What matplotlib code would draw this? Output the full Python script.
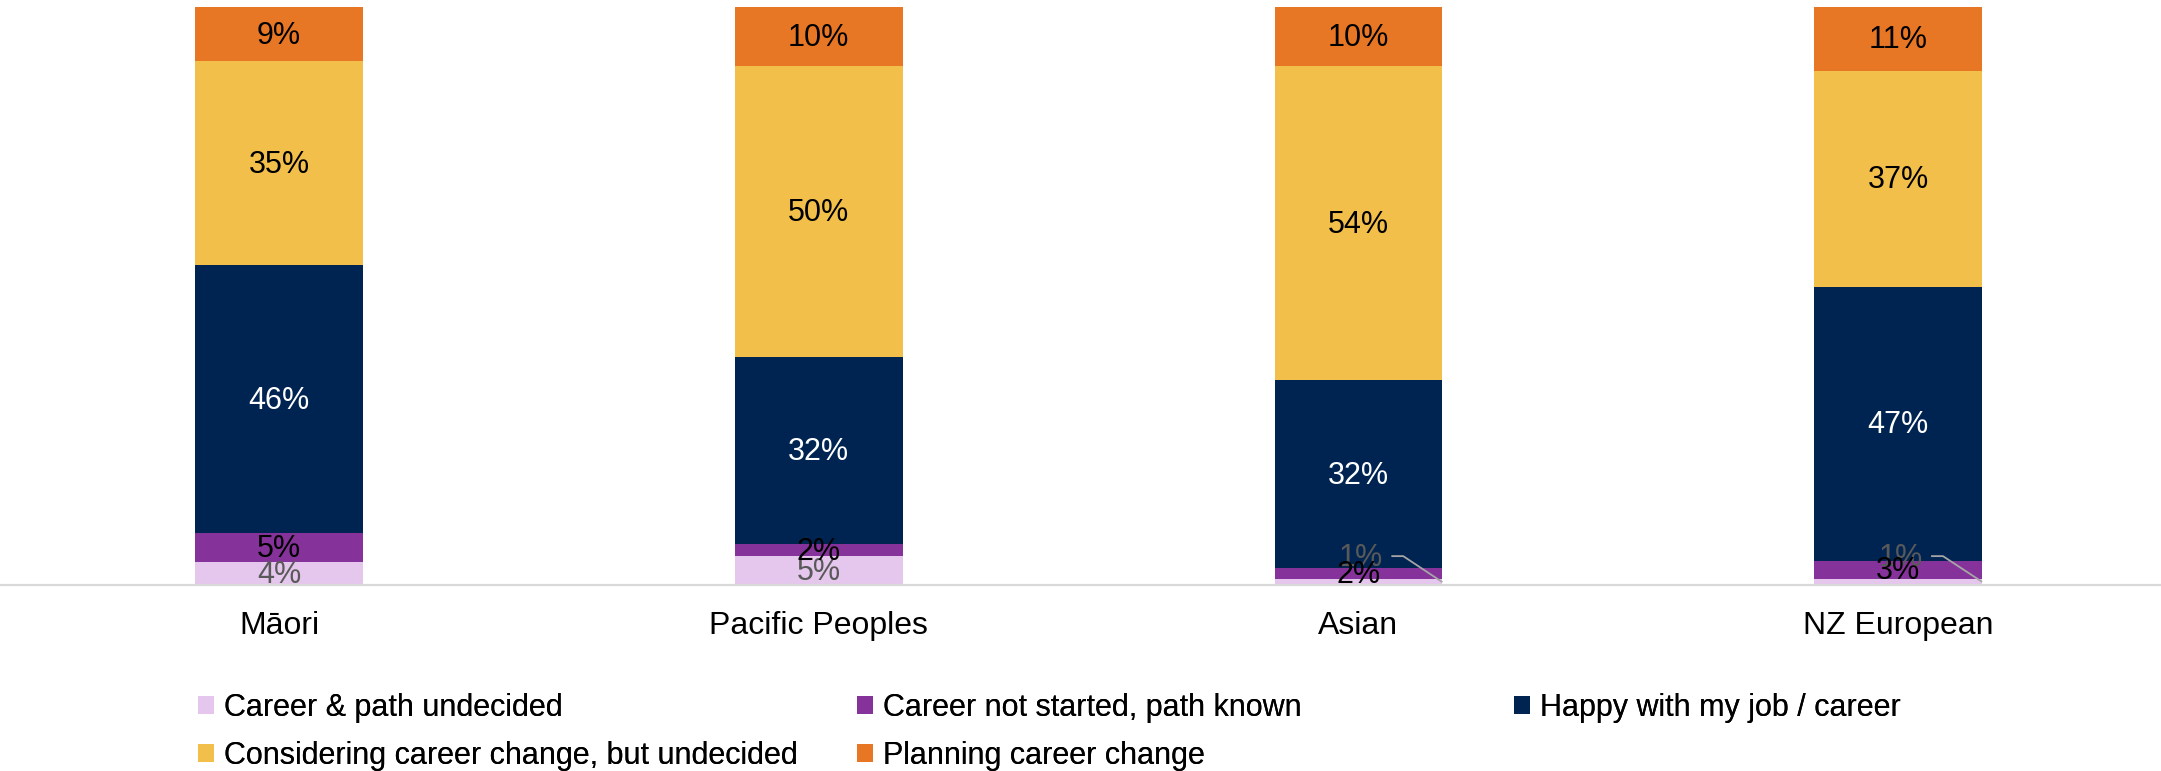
import matplotlib
matplotlib.use("Agg")
import matplotlib.pyplot as plt
from matplotlib.patches import Patch
import numpy as np

plt.rcParams['font.family'] = ['Liberation Sans', 'DejaVu Sans']

groups = ["Māori", "Pacific Peoples", "Asian", "NZ European"]
series = [
    "Career & path undecided",
    "Career not started, path known",
    "Happy with my job / career",
    "Considering career change, but undecided",
    "Planning career change",
]
# share of respondents (%) per group, bottom to top
undecided = [3.9, 5.0, 1.0, 1.1]
not_started = [5.1, 2.1, 2.0, 3.1]
happy = [46.4, 32.4, 32.4, 47.4]
considering = [35.2, 50.3, 54.4, 37.4]
planning = [9.4, 10.2, 10.2, 11.0]

values = [undecided, not_started, happy, considering, planning]
colors = ["#E5C6EC", "#85339A", "#002452", "#F2BF4A", "#E77724"]
label_colors = ["#595959", "#000000", "#FFFFFF", "#000000", "#000000"]

fig = plt.figure(figsize=(21.61, 7.71), dpi=100)
ax = fig.add_axes([0, 0.2412, 1, 0.7497])


def seg_label(xv, yv, txt, color):
    ax.annotate(txt, (xv, yv), xytext=(0, -1.2), textcoords="offset points",
                ha="center", va="center", fontsize=22, color=color, zorder=4)


x = np.arange(len(groups))
width = 0.311
bottom = np.zeros(len(groups))
for vals, col, lcol in zip(values, colors, label_colors):
    vals = np.array(vals)
    ax.bar(x, vals, width, bottom=bottom, color=col, zorder=2)
    for i, (b, v) in enumerate(zip(bottom, vals)):
        txt = f"{round(v):.0f}%"
        if v < 1.5:
            # thin segment: label sits above with a leader line
            ly = 5.0
            seg_label(x[i] + 0.004, ly, txt, lcol)
            ax.plot([x[i] + 0.061, x[i] + 0.083, x[i] + width / 2],
                    [ly, ly, b + v / 2], color="#A6A6A6", lw=1.3, zorder=3,
                    solid_capstyle="butt")
        else:
            seg_label(x[i], b + v / 2, txt, lcol)
    bottom += vals

ax.set_xlim(-0.517, 3.487)
ax.set_ylim(0, 100)
for s in ["top", "left", "right"]:
    ax.spines[s].set_visible(False)
ax.spines["bottom"].set_color("#D9D9D9")
ax.spines["bottom"].set_linewidth(1.6)
ax.spines["bottom"].set_zorder(3)
ax.set_yticks([])
ax.set_xticks(x)
ax.set_xticklabels(groups, fontsize=23)
ax.tick_params(axis="x", length=0, pad=19)

# legend laid out in three fixed-width columns
handles = [Patch(facecolor=c, edgecolor="none") for c in colors]
col_left = [0.0915, 0.3965, 0.7005]
for c in range(3):
    idx = [k for k in (c, c + 3) if k < len(series)]
    leg = fig.legend([handles[k] for k in idx], [series[k] for k in idx],
                     loc="upper left", bbox_to_anchor=(col_left[c], 0.1013),
                     frameon=False, fontsize=22, handlelength=0.52,
                     handleheight=0.52, handletextpad=0.33, labelspacing=0.6,
                     borderpad=0, borderaxespad=0)
    fig.add_artist(leg)

fig.savefig("out.png", dpi=100)
